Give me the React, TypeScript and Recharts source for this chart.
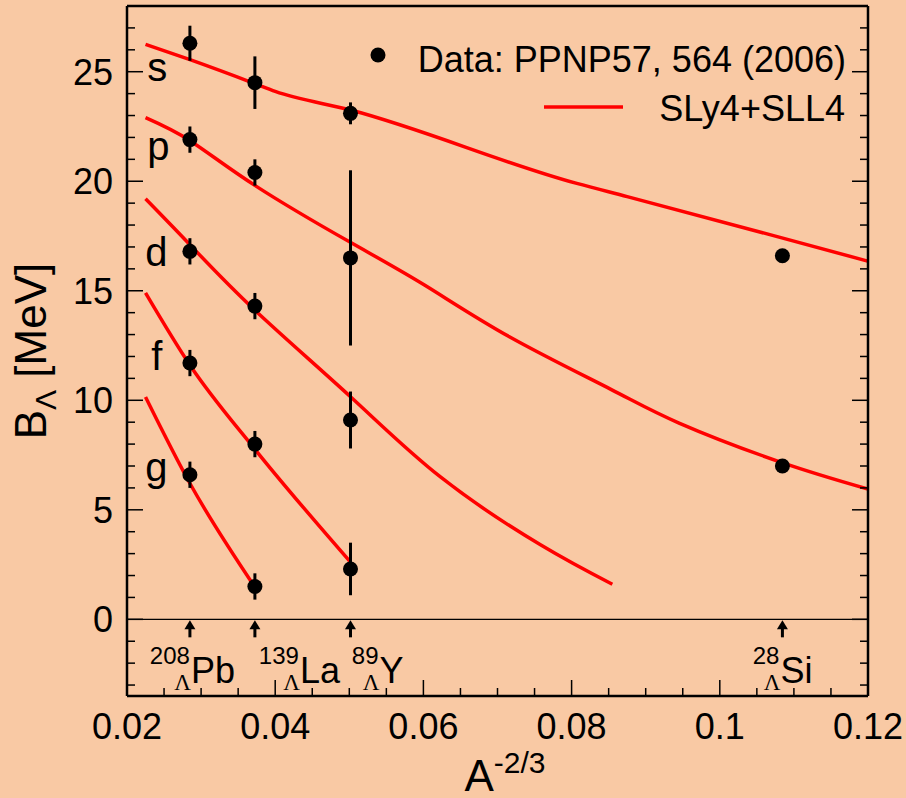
import React from "react";
import { ComposedChart, XAxis, YAxis, Line, Scatter, ErrorBar, ReferenceLine, Legend } from "recharts";

const FONT = "'Liberation Sans', Arial, sans-serif";
const BG = "#f9c9a4";

// nuclei: A^(-2/3) of the hypernuclei
const nucleusMass = ["208", "139", "89", "28"];
const nucleusSymbol = ["Pb", "La", "Y", "Si"];
const nucleusX = [0.02849, 0.03726, 0.05016, 0.10845];

// measured B_Lambda per shell (same order as nuclei), null = not measured
const expS = [26.3, 24.5, 23.1, 16.6];
const errS = [0.8, 1.2, 0.5, 0];
const expP = [21.9, 20.4, 16.5, 7.0];
const errP = [0.6, 0.6, 4.0, 0];
const expD = [16.8, 14.3, 9.1, null];
const errD = [0.6, 0.6, 1.3, null];
const expF = [11.7, 8.0, 2.3, null];
const errF = [0.6, 0.6, 1.2, null];
const expG = [6.6, 1.5, null, null];
const errG = [0.6, 0.6, null, null];

// SLy4+SLL4 curves
const curveSX = [0.0225, 0.0285, 0.0373, 0.04, 0.0502, 0.0807, 0.0875, 0.108, 0.12];
const curveSY = [26.25, 25.55, 24.45, 24.1, 23.25, 19.9, 19.3, 17.45, 16.35];
const curvePX = [0.0225, 0.0285, 0.0373, 0.0502, 0.0602, 0.0716, 0.0853, 0.0945, 0.1082, 0.12];
const curvePY = [22.9, 21.85, 19.8, 17.2, 15.25, 12.9, 10.5, 8.96, 7.18, 5.95];
const curveDX = [0.0225, 0.0285, 0.0373, 0.0502, 0.0623, 0.0758, 0.0855];
const curveDY = [19.2, 17.1, 14.1, 10.15, 6.5, 3.4, 1.6];
const curveFX = [0.0225, 0.0285, 0.0373, 0.0502];
const curveFY = [14.9, 11.6, 7.75, 2.6];
const curveGX = [0.0225, 0.0285, 0.0373];
const curveGY = [10.15, 6.2, 1.45];

const xMajor = [0.02, 0.04, 0.06, 0.08, 0.1, 0.12];
const xTicks = [0.02, 0.025, 0.03, 0.035, 0.04, 0.045, 0.05, 0.055, 0.06, 0.065, 0.07,
  0.075, 0.08, 0.085, 0.09, 0.095, 0.1, 0.105, 0.11, 0.115, 0.12];
const yMajor = [0, 5, 10, 15, 20, 25];
const yTicks = [-3, -2, -1, 0, 1, 2, 3, 4, 5, 6, 7, 8, 9, 10, 11, 12, 13, 14, 15, 16, 17, 18,
  19, 20, 21, 22, 23, 24, 25, 26, 27, 28];

// shell letters drawn next to the curves
const shellNames = ["s", "p", "d", "f", "g"];
const shellLabelX = [0.02274, 0.02274, 0.02247, 0.02328, 0.02247];
const shellLabelY = [24.58, 20.98, 16.13, 11.38, 6.31];
const curveKinds = ["monotone", "natural", "natural", "monotone", "monotone"];
// where the nucleus symbol starts relative to its arrow (px)
const nucleusLabelDx = [1, 45, 29, -2];

const shellExp = [expS, expP, expD, expF, expG];
const shellErr = [errS, errP, errD, errF, errG];
const expPoints: { x: number; y: number; err: number }[] = [];
shellExp.forEach((vals, si) =>
  vals.forEach((v, ni) => {
    if (v != null) expPoints.push({ x: nucleusX[ni], y: v, err: shellErr[si][ni] as number });
  })
);

const pts = (xs: number[], ys: number[]) => xs.map((x, i) => ({ x, y: ys[i] }));
const curves = [
  pts(curveSX, curveSY),
  pts(curvePX, curvePY),
  pts(curveDX, curveDY),
  pts(curveFX, curveFY),
  pts(curveGX, curveGY),
];

const nucleusMarks = nucleusX.map((x, i) => ({
  x,
  y: 0,
  mass: nucleusMass[i],
  sym: nucleusSymbol[i],
  dx: nucleusLabelDx[i],
}));
const shellMarks = shellNames.map((n, i) => ({ x: shellLabelX[i], y: shellLabelY[i], name: n }));

const isMajorX = (v: number) => xMajor.some((m) => Math.abs(m - v) < 1e-9);
const fmtX = (v: number) => String(Number(v.toFixed(2)));

const BottomTick = (p: any) => {
  const v = p.payload.value;
  const major = isMajorX(v);
  return (
    <g>
      <line x1={p.x} x2={p.x} y1={p.y} y2={p.y - (major ? 16 : 8)} stroke="#000" strokeWidth={1.5} />
      {major && (
        <text x={p.x} y={p.y + 43} textAnchor="middle" fontSize={36} fontFamily={FONT} fill="#000">
          {fmtX(v)}
        </text>
      )}
    </g>
  );
};
const TopTick = (p: any) => {
  const major = isMajorX(p.payload.value);
  return <line x1={p.x} x2={p.x} y1={p.y} y2={p.y + (major ? 16 : 8)} stroke="#000" strokeWidth={1.5} />;
};
const LeftTick = (p: any) => {
  const v = p.payload.value;
  const major = yMajor.includes(v);
  return (
    <g>
      <line x1={p.x} x2={p.x + (major ? 16 : 8)} y1={p.y} y2={p.y} stroke="#000" strokeWidth={1.5} />
      {major && (
        <text x={p.x - 14} y={p.y + 13} textAnchor="end" fontSize={36} fontFamily={FONT} fill="#000">
          {v}
        </text>
      )}
    </g>
  );
};
const RightTick = (p: any) => {
  const major = yMajor.includes(p.payload.value);
  return <line x1={p.x} x2={p.x - (major ? 16 : 8)} y1={p.y} y2={p.y} stroke="#000" strokeWidth={1.5} />;
};

const Dot = (p: any) => <circle cx={p.cx} cy={p.cy} r={7.5} fill="#000" />;

const Arrow = (p: any) => {
  const { cx, cy, payload } = p;
  const sx = cx + payload.dx;
  return (
    <g>
      <line x1={cx} x2={cx} y1={cy + 8} y2={cy + 18} stroke="#000" strokeWidth={3} />
      <path d={`M${cx},${cy + 1} L${cx + 5.5},${cy + 10} L${cx - 5.5},${cy + 10} Z`} fill="#000" />
      <text x={sx - 1} y={cy + 45} textAnchor="end" fontSize={24} fontFamily={FONT} fill="#000">
        {payload.mass}
      </text>
      <text x={sx} y={cy + 71} textAnchor="end" fontSize={23} fontFamily="'Liberation Serif', serif" fill="#000">
        Λ
      </text>
      <text x={sx} y={cy + 64} textAnchor="start" fontSize={36} fontFamily={FONT} fill="#000">
        {payload.sym}
      </text>
    </g>
  );
};

const ShellLetter = (p: any) => (
  <text x={p.cx} y={p.cy} textAnchor="start" fontSize={40} fontFamily={FONT} fill="#000">
    {p.payload.name}
  </text>
);

const YTitle = () => (
  <text
    x={46}
    y={351}
    transform="rotate(-90, 46, 351)"
    textAnchor="middle"
    fontSize={44}
    fontFamily={FONT}
    fill="#000"
  >
    B
    <tspan fontSize={30} dy={10}>Λ</tspan>
    <tspan dy={-10}> [MeV]</tspan>
  </text>
);

const XTitle = () => (
  <text x={505} y={791} textAnchor="middle" fontSize={44} fontFamily={FONT} fill="#000">
    A
    <tspan fontSize={30} dy={-18}>-2/3</tspan>
  </text>
);

const LegendBox = () => (
  <svg width={906} height={140} style={{ position: "absolute", left: 0, top: 0, overflow: "visible" }}>
    <circle cx={378} cy={55} r={7.5} fill="#000" />
    <text x={846} y={71.5} textAnchor="end" fontSize={36} fontFamily={FONT} fill="#000">
      Data: PPNP57, 564 (2006)
    </text>
    <line x1={544} x2={623} y1={107} y2={107} stroke="#ff0000" strokeWidth={3.5} />
    <text x={845} y={121} textAnchor="end" fontSize={36} fontFamily={FONT} fill="#000">
      SLy4+SLL4
    </text>
  </svg>
);

export default function App() {
  return (
    <div style={{ position: "absolute", left: 0, top: 0, width: 906, height: 798, background: BG }}>
      <ComposedChart width={906} height={798} margin={{ top: 5, right: 37, bottom: 0, left: 0 }}>
        <XAxis
          xAxisId="b"
          dataKey="x"
          type="number"
          domain={[0.02, 0.12]}
          allowDataOverflow
          ticks={xTicks}
          interval={0}
          height={102}
          tickSize={0}
          tickMargin={0}
          tickLine={false}
          tick={BottomTick}
          axisLine={{ stroke: "#000", strokeWidth: 2.5 }}
          label={<XTitle />}
        />
        <XAxis
          xAxisId="t"
          orientation="top"
          type="number"
          domain={[0.02, 0.12]}
          allowDataOverflow
          ticks={xTicks}
          interval={0}
          height={1}
          tickSize={0}
          tickMargin={0}
          tickLine={false}
          tick={TopTick}
          axisLine={{ stroke: "#000", strokeWidth: 2.5 }}
        />
        <YAxis
          yAxisId="l"
          dataKey="y"
          type="number"
          domain={[-3.5, 28]}
          allowDataOverflow
          ticks={yTicks}
          interval={0}
          width={127}
          tickSize={0}
          tickMargin={0}
          tickLine={false}
          tick={LeftTick}
          axisLine={{ stroke: "#000", strokeWidth: 2.5 }}
          label={<YTitle />}
        />
        <YAxis
          yAxisId="r"
          orientation="right"
          type="number"
          domain={[-3.5, 28]}
          allowDataOverflow
          ticks={yTicks}
          interval={0}
          width={1}
          tickSize={0}
          tickMargin={0}
          tickLine={false}
          tick={RightTick}
          axisLine={{ stroke: "#000", strokeWidth: 2.5 }}
        />
        <ReferenceLine xAxisId="b" yAxisId="l" y={0} stroke="#000" strokeWidth={1.2} />
        {curves.map((c, i) => (
          <Line
            key={shellNames[i]}
            xAxisId="b"
            yAxisId="l"
            data={c}
            dataKey="y"
            type={curveKinds[i] as any}
            stroke="#ff0000"
            strokeWidth={3.5}
            dot={false}
            activeDot={false}
            legendType="none"
            isAnimationActive={false}
          />
        ))}
        <Scatter
          xAxisId="b"
          yAxisId="l"
          data={nucleusMarks}
          dataKey="y"
          shape={Arrow}
          legendType="none"
          isAnimationActive={false}
        />
        <Scatter
          xAxisId="b"
          yAxisId="l"
          data={shellMarks}
          dataKey="y"
          shape={ShellLetter}
          legendType="none"
          isAnimationActive={false}
        />
        <Scatter
          xAxisId="b"
          yAxisId="l"
          data={expPoints}
          dataKey="y"
          shape={Dot}
          isAnimationActive={false}
        >
          <ErrorBar dataKey="err" direction="y" width={0} stroke="#000" strokeWidth={3} />
        </Scatter>
        <Legend
          layout="vertical"
          align="center"
          verticalAlign="middle"
          content={LegendBox}
          wrapperStyle={{ left: 0, top: 0, width: 0, height: 0, overflow: "visible" }}
        />
      </ComposedChart>
    </div>
  );
}
